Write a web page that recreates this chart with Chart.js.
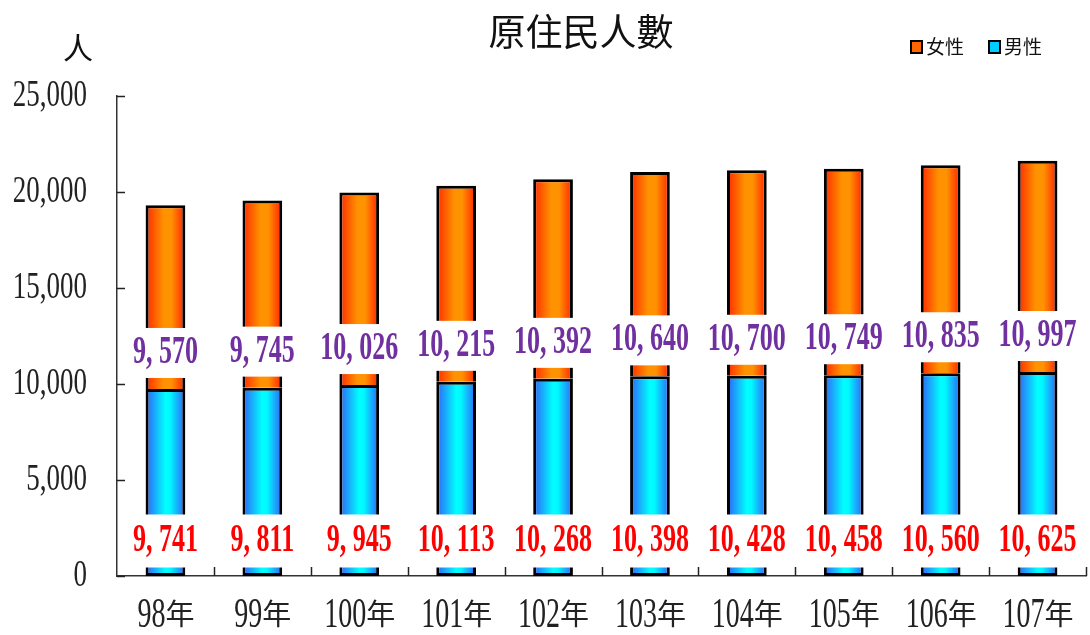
<!DOCTYPE html>
<html>
<head>
<meta charset="utf-8">
<script src="https://cdn.jsdelivr.net/npm/chart.js@4"></script>
<style>
html,body{margin:0;padding:0;background:#fff;}
canvas{display:block;}
</style>
</head>
<body>
<canvas id="c" width="1090" height="635"></canvas>
<script>
const categories = ['98年','99年','100年','101年','102年','103年','104年','105年','106年','107年'];
const femaleValues = [9570, 9745, 10026, 10215, 10392, 10640, 10700, 10749, 10835, 10997];
const maleValues = [9741, 9811, 9945, 10113, 10268, 10398, 10428, 10458, 10560, 10625];
const yTicks = [0, 5000, 10000, 15000, 20000, 25000];
const titleText = '原住民人數';
const unitText = '人';
const femaleName = '女性';
const maleName = '男性';

const SERIF = '"Liberation Serif", "DejaVu Serif", serif';
const CJK = '"Noto Sans CJK TC", "Noto Sans CJK SC", sans-serif';

function fmt(v, sep) {
  return v.toLocaleString('en-US').replace(/,/g, sep);
}

function barGradient(ctx, stops) {
  const chart = ctx.chart;
  const xs = chart.scales.x;
  if (!xs || ctx.type !== 'data') return stops[1][1];
  const cx = xs.getPixelForValue(ctx.dataIndex);
  const w = (xs.right - xs.left) / categories.length * 0.41;
  if (!isFinite(cx) || !isFinite(w) || w <= 0) return stops[1][1];
  const g = chart.ctx.createLinearGradient(cx - w / 2, 0, cx + w / 2, 0);
  stops.forEach(s => g.addColorStop(s[0], s[1]));
  return g;
}
const maleStops = [[0, '#3060F8'], [0.5, '#00FFFF'], [0.62, '#00F8FF'], [1, '#3060F8']];
const femaleStops = [[0, '#FF2800'], [0.45, '#FF9200'], [0.65, '#FF9200'], [1, '#FF2000']];

function stretchText(ctx, text, x, y, font, color, align, sy) {
  ctx.save();
  ctx.font = font;
  ctx.fillStyle = color;
  ctx.textAlign = align;
  ctx.textBaseline = 'middle';
  ctx.translate(x, y);
  ctx.scale(1, sy);
  ctx.fillText(text, 0, 0);
  ctx.restore();
}

const decorPlugin = {
  id: 'decor',
  afterDraw(chart) {
    const ctx = chart.ctx;
    const xs = chart.scales.x, ys = chart.scales.y;
    const area = chart.chartArea;
    const catW = (xs.right - xs.left) / categories.length;

    // axis tick marks (inside)
    ctx.save();
    ctx.strokeStyle = '#222';
    ctx.lineWidth = 1.5;
    yTicks.forEach(v => {
      const y = Math.round(ys.getPixelForValue(v)) + 0.5;
      ctx.beginPath(); ctx.moveTo(area.left, y); ctx.lineTo(area.left + 8, y); ctx.stroke();
    });
    for (let i = 1; i <= categories.length; i++) {
      const x = Math.round(xs.getPixelForValue(i - 1) + catW / 2) + 0.5;
      ctx.beginPath(); ctx.moveTo(x, area.bottom); ctx.lineTo(x, area.bottom - 9); ctx.stroke();
    }
    ctx.restore();

    // y tick labels
    yTicks.forEach(v => {
      stretchText(ctx, fmt(v, ','), 87, ys.getPixelForValue(v), '27px ' + SERIF, '#222', 'right', 1.42);
    });

    // x labels
    categories.forEach((c, i) => {
      const cx = xs.getPixelForValue(i);
      const num = c.replace('年', '');
      ctx.save();
      ctx.font = '28px ' + SERIF;
      const nw = ctx.measureText(num).width;
      ctx.font = '28px ' + CJK;
      const cw = ctx.measureText('年').width;
      ctx.restore();
      const start = cx - (nw + cw) / 2;
      stretchText(ctx, num, start, 616, '28px ' + SERIF, '#222', 'left', 1.5);
      ctx.save();
      ctx.font = '29px ' + CJK;
      ctx.fillStyle = '#222';
      ctx.textAlign = 'left';
      ctx.textBaseline = 'middle';
      ctx.fillText('年', start + nw, 614);
      ctx.restore();
    });

    // data labels with white boxes
    const drawLabel = (text, cx, cy, color, h) => {
      ctx.save();
      ctx.font = 'bold 26px ' + SERIF;
      const w = ctx.measureText(text).width;
      ctx.fillStyle = '#fff';
      ctx.fillRect(cx - w / 2 - 3, cy - h / 2, w + 6, h);
      ctx.restore();
      stretchText(ctx, text, cx, cy, 'bold 26px ' + SERIF, color, 'center', 1.5);
    };
    femaleValues.forEach((v, i) => {
      const base = ys.getPixelForValue(maleValues[i]);
      drawLabel(fmt(v, ', '), xs.getPixelForValue(i), base - 36, '#7030A0', 50);
    });
    maleValues.forEach((v, i) => {
      drawLabel(fmt(v, ', '), xs.getPixelForValue(i), ys.getPixelForValue(0) - 35, '#FF0000', 53);
    });

    // title
    ctx.save();
    ctx.font = '37px ' + CJK;
    ctx.fillStyle = '#111';
    ctx.textAlign = 'center';
    ctx.textBaseline = 'middle';
    ctx.fillText(titleText, 581, 32);
    ctx.font = '30px ' + CJK;
    ctx.fillText(unitText, 78, 48);
    ctx.restore();

    // legend
    const items = [[910, femaleName, '#FF6600'], [988, maleName, '#00CCFF']];
    items.forEach(it => {
      ctx.save();
      ctx.fillStyle = '#000';
      ctx.fillRect(it[0], 40, 13, 14);
      ctx.fillStyle = it[2];
      ctx.fillRect(it[0] + 2, 42, 9, 10);
      ctx.font = '19px ' + CJK;
      ctx.fillStyle = '#111';
      ctx.textAlign = 'left';
      ctx.textBaseline = 'middle';
      ctx.fillText(it[1], it[0] + 16, 47);
      ctx.restore();
    });
  }
};

new Chart(document.getElementById('c'), {
  type: 'bar',
  data: {
    labels: categories,
    datasets: [
      {
        label: maleName,
        data: maleValues,
        backgroundColor: (ctx) => barGradient(ctx, maleStops),
        borderColor: '#000',
        borderWidth: 3,
        borderSkipped: false,
        barPercentage: 0.41,
        categoryPercentage: 1.0
      },
      {
        label: femaleName,
        data: femaleValues,
        backgroundColor: (ctx) => barGradient(ctx, femaleStops),
        borderColor: '#000',
        borderWidth: 3,
        borderSkipped: 'bottom',
        barPercentage: 0.41,
        categoryPercentage: 1.0
      }
    ]
  },
  options: {
    responsive: false,
    animation: false,
    devicePixelRatio: 1,
    layout: { padding: { left: 117, right: 4, top: 96, bottom: 59 } },
    plugins: { legend: { display: false }, title: { display: false }, tooltip: { enabled: false } },
    scales: {
      x: {
        stacked: true,
        offset: true,
        grid: { display: false, drawTicks: false },
        ticks: { display: false },
        border: { display: true, color: '#333', width: 1.5 }
      },
      y: {
        stacked: true,
        min: 0,
        max: 25000,
        grid: { display: false, drawTicks: false },
        ticks: { display: false, stepSize: 5000 },
        border: { display: true, color: '#333', width: 1.5 }
      }
    }
  },
  plugins: [decorPlugin]
});
</script>
</body>
</html>
